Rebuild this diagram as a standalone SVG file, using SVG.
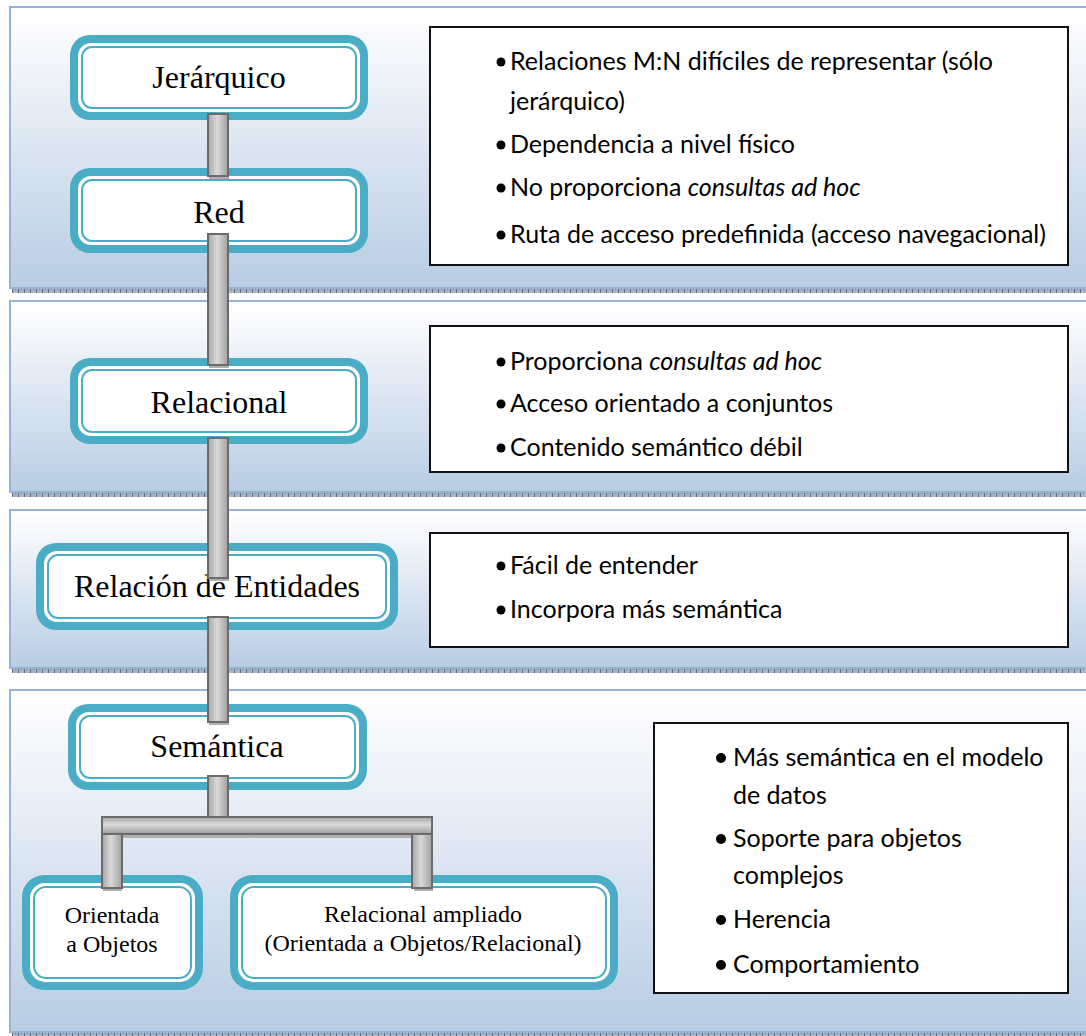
<svg xmlns="http://www.w3.org/2000/svg" width="1086" height="1036" viewBox="0 0 1086 1036">
  <defs>
    <linearGradient id="panelFill" x1="0" y1="0" x2="0" y2="1">
      <stop offset="0" stop-color="#ffffff"/>
      <stop offset="0.1" stop-color="#f9fafd"/>
      <stop offset="1" stop-color="#b8cce4"/>
    </linearGradient>
    <linearGradient id="barV" x1="0" y1="0" x2="1" y2="0">
      <stop offset="0" stop-color="#a6a6a6"/>
      <stop offset="0.45" stop-color="#d9d9d9"/>
      <stop offset="1" stop-color="#a0a0a0"/>
    </linearGradient>
    <linearGradient id="barH" x1="0" y1="0" x2="0" y2="1">
      <stop offset="0" stop-color="#a8a8a8"/>
      <stop offset="0.45" stop-color="#d9d9d9"/>
      <stop offset="1" stop-color="#9c9c9c"/>
    </linearGradient>
    <pattern id="hatch" width="6" height="4" patternUnits="userSpaceOnUse">
      <rect width="6" height="4" fill="#a9b4c2"/>
      <rect x="0" y="0" width="1" height="4" fill="#5f6b7a"/>
      <rect x="3" y="1" width="1" height="1" fill="#7d8898"/>
    </pattern>
  </defs>
  <style>
    .panel { fill: url(#panelFill); stroke: #95b3d7; stroke-width: 2; }
    .shade { fill: url(#hatch); }
    .band { fill: #4bacc6; }
    .inner { fill: #ffffff; }
    .rim { fill: none; stroke: #4bacc6; stroke-width: 2; }
    .label { font-family: "Liberation Serif", "Times New Roman", serif; font-size: 32px; fill: #000; text-anchor: middle; }
    .small { font-size: 24px; }
    .box { fill: #ffffff; stroke: #111111; stroke-width: 2; }
    .item { font-family: Lato, "Liberation Sans", sans-serif; font-size: 25px; fill: #000; }
    .dot { fill: #000; }
    .bar { fill: url(#barV); stroke: #6b6b6b; stroke-width: 2; }
    .hbar { fill: url(#barH); stroke: #6b6b6b; stroke-width: 2; }
    .foot { fill: #b0b0b0; }
  </style>

  <!-- background bands -->
  <g id="bands">
    <rect class="panel" x="10" y="7" width="1090" height="281"/>
    <rect class="shade" x="12" y="289" width="1086" height="4"/>
    <rect class="panel" x="10" y="301" width="1090" height="191"/>
    <rect class="shade" x="12" y="493" width="1086" height="4"/>
    <rect class="panel" x="10" y="510" width="1090" height="158"/>
    <rect class="shade" x="12" y="669" width="1086" height="4"/>
    <rect class="panel" x="10" y="690" width="1090" height="342"/>
    <rect class="shade" x="12" y="1033" width="1086" height="3"/>
  </g>

  <!-- model nodes -->
  <g id="node-jerarquico">
    <rect class="band" x="70" y="35" width="298" height="85" rx="20"/>
    <rect class="inner" x="78" y="43" width="282" height="69" rx="13"/>
    <rect class="rim" x="82" y="47" width="274" height="61" rx="10"/>
    <text class="label" x="219" y="88">Jerárquico</text>
  </g>
  <g id="node-red">
    <rect class="band" x="70" y="168" width="298" height="85" rx="20"/>
    <rect class="inner" x="78" y="176" width="282" height="69" rx="13"/>
    <rect class="rim" x="82" y="180" width="274" height="61" rx="10"/>
    <text class="label" x="219" y="223">Red</text>
  </g>
  <g id="node-relacional">
    <rect class="band" x="70" y="358" width="298" height="86" rx="20"/>
    <rect class="inner" x="78" y="366" width="282" height="70" rx="13"/>
    <rect class="rim" x="82" y="370" width="274" height="62" rx="10"/>
    <text class="label" x="219" y="413">Relacional</text>
  </g>
  <g id="node-entidades">
    <rect class="band" x="36" y="543" width="362" height="87" rx="20"/>
    <rect class="inner" x="44" y="551" width="346" height="71" rx="13"/>
    <rect class="rim" x="48" y="555" width="338" height="63" rx="10"/>
    <text class="label" x="217" y="597">Relación de Entidades</text>
  </g>
  <g id="node-semantica">
    <rect class="band" x="68" y="704" width="299" height="86" rx="20"/>
    <rect class="inner" x="76" y="712" width="283" height="70" rx="13"/>
    <rect class="rim" x="80" y="716" width="275" height="62" rx="10"/>
    <text class="label" x="217" y="757">Semántica</text>
  </g>
  <g id="node-objetos">
    <rect class="band" x="22" y="875" width="181" height="115" rx="22"/>
    <rect class="inner" x="30" y="883" width="165" height="99" rx="15"/>
    <rect class="rim" x="34" y="887" width="157" height="91" rx="12"/>
    <text class="label small" x="112" y="923">Orientada</text>
    <text class="label small" x="112" y="952">a Objetos</text>
  </g>
  <g id="node-ampliado">
    <rect class="band" x="230" y="875" width="388" height="115" rx="22"/>
    <rect class="inner" x="238" y="883" width="372" height="99" rx="15"/>
    <rect class="rim" x="242" y="887" width="364" height="91" rx="12"/>
    <text class="label small" x="423" y="922">Relacional ampliado</text>
    <text class="label small" x="423" y="951">(Orientada a Objetos/Relacional)</text>
  </g>

  <!-- feature lists -->
  <g id="list-red">
    <rect class="box" x="430" y="27" width="638" height="238"/>
    <circle class="dot" cx="501" cy="62" r="4.5"/>
    <text class="item" x="510" y="70">Relaciones M:N difíciles de representar (sólo</text>
    <text class="item" x="510" y="110">jerárquico)</text>
    <circle class="dot" cx="501" cy="145" r="4.5"/>
    <text class="item" x="510" y="153">Dependencia a nivel físico</text>
    <circle class="dot" cx="501" cy="188" r="4.5"/>
    <text class="item" x="510" y="196">No proporciona <tspan font-style="italic">consultas ad hoc</tspan></text>
    <circle class="dot" cx="501" cy="235" r="4.5"/>
    <text class="item" x="510" y="243">Ruta de acceso predefinida (acceso navegacional)</text>
  </g>
  <g id="list-relacional">
    <rect class="box" x="430" y="326" width="638" height="146"/>
    <circle class="dot" cx="501" cy="362" r="4.5"/>
    <text class="item" x="510" y="370">Proporciona <tspan font-style="italic">consultas ad hoc</tspan></text>
    <circle class="dot" cx="501" cy="404" r="4.5"/>
    <text class="item" x="510" y="412">Acceso orientado a conjuntos</text>
    <circle class="dot" cx="501" cy="448" r="4.5"/>
    <text class="item" x="510" y="456">Contenido semántico débil</text>
  </g>
  <g id="list-entidades">
    <rect class="box" x="430" y="533" width="638" height="114"/>
    <circle class="dot" cx="501" cy="566" r="4.5"/>
    <text class="item" x="510" y="574">Fácil de entender</text>
    <circle class="dot" cx="501" cy="610" r="4.5"/>
    <text class="item" x="510" y="618">Incorpora más semántica</text>
  </g>
  <g id="list-semantica">
    <rect class="box" x="654" y="723" width="414" height="270"/>
    <circle class="dot" cx="721" cy="758" r="5"/>
    <text class="item" x="733" y="766">Más semántica en el modelo</text>
    <text class="item" x="733" y="804">de datos</text>
    <circle class="dot" cx="721" cy="839" r="5"/>
    <text class="item" x="733" y="847">Soporte para objetos</text>
    <text class="item" x="733" y="884">complejos</text>
    <circle class="dot" cx="721" cy="920" r="5"/>
    <text class="item" x="733" y="928">Herencia</text>
    <circle class="dot" cx="721" cy="965" r="5"/>
    <text class="item" x="733" y="973">Comportamiento</text>
  </g>

  <!-- connectors: grey pipes between the levels -->
  <g id="connectors">
    <rect class="foot" x="209" y="176" width="20" height="3"/>
    <rect class="bar" x="208" y="114" width="20" height="62"/>
    <rect class="foot" x="209" y="365" width="20" height="3"/>
    <rect class="bar" x="208" y="234" width="20" height="131"/>
    <rect class="foot" x="209" y="578" width="20" height="3"/>
    <rect class="bar" x="208" y="438" width="20" height="140"/>
    <rect class="foot" x="209" y="722" width="20" height="3"/>
    <rect class="bar" x="208" y="617" width="20" height="105"/>
    <rect class="bar" x="208" y="776" width="20" height="42"/>
    <rect class="foot" x="122" y="834" width="290" height="4"/>
    <rect class="foot" x="103" y="888" width="19" height="3"/>
    <rect class="foot" x="414" y="888" width="19" height="3"/>
    <rect class="bar" x="102" y="826" width="20" height="62"/>
    <rect class="bar" x="412" y="826" width="20" height="62"/>
    <rect class="hbar" x="102" y="817" width="330" height="17"/>
  </g>
</svg>
